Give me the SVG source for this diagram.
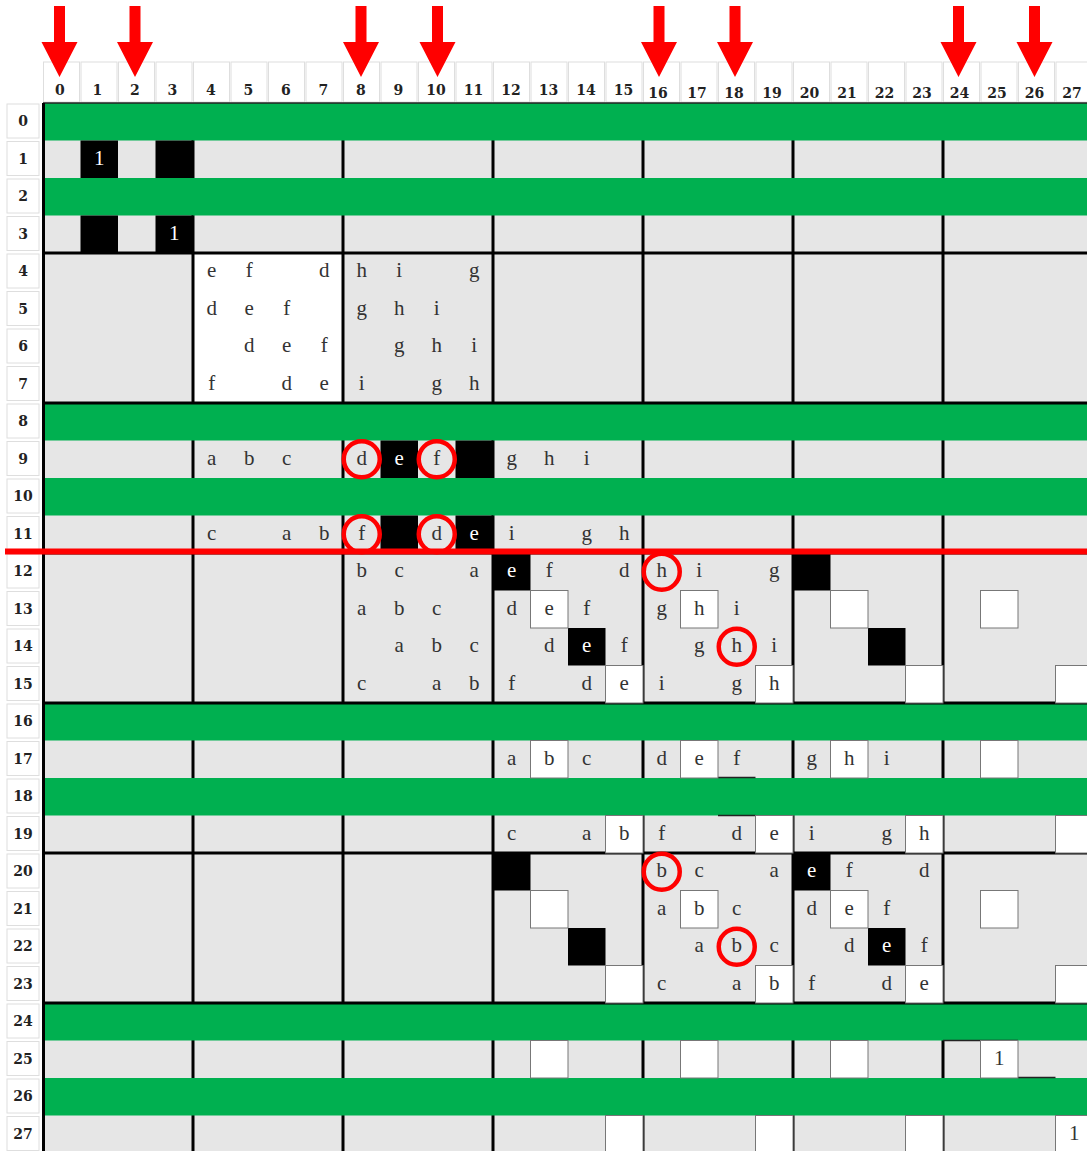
<svg xmlns="http://www.w3.org/2000/svg" width="1087" height="1151" viewBox="0 0 1087 1151">
<defs>
<style>
.hdr{fill:#fff;stroke:#dedede;stroke-width:1}
.hnum{font-family:"DejaVu Serif","Liberation Serif",serif;font-weight:bold;font-size:14px;fill:#222;text-anchor:middle}
.grn{fill:#00b050}
.blk{fill:#000}
.wht{fill:#fff;stroke:#777;stroke-width:1}
.thick{stroke:#000;stroke-width:3}
.lt{font-family:"Liberation Serif",serif;font-size:21px;fill:#333;text-anchor:middle}
.lw{font-family:"Liberation Serif",serif;font-size:21px;fill:#fff;text-anchor:middle}
.circ{fill:none;stroke:#ff0000;stroke-width:4.5}
.arr{fill:#ff0000}
.art{stroke:#222;stroke-width:1.5}
</style>
</defs>
<rect width="1087" height="1151" fill="#fff"/>

<g id="col-headers">
<rect class="hdr" x="43.5" y="62" width="36" height="40"/><text class="hnum" x="59.75" y="95">0</text>
<rect class="hdr" x="81" y="62" width="36" height="40"/><text class="hnum" x="97.25" y="95">1</text>
<rect class="hdr" x="118.5" y="62" width="36" height="40"/><text class="hnum" x="134.75" y="95">2</text>
<rect class="hdr" x="156" y="62" width="36" height="40"/><text class="hnum" x="172.25" y="95">3</text>
<rect class="hdr" x="193.5" y="62" width="36" height="40"/><text class="hnum" x="210.75" y="95">4</text>
<rect class="hdr" x="231" y="62" width="36" height="40"/><text class="hnum" x="248.25" y="95">5</text>
<rect class="hdr" x="268.5" y="62" width="36" height="40"/><text class="hnum" x="285.75" y="95">6</text>
<rect class="hdr" x="306" y="62" width="36" height="40"/><text class="hnum" x="323.25" y="95">7</text>
<rect class="hdr" x="343.5" y="62" width="36" height="40"/><text class="hnum" x="360.75" y="95">8</text>
<rect class="hdr" x="381" y="62" width="36" height="40"/><text class="hnum" x="398.25" y="95">9</text>
<rect class="hdr" x="418.5" y="62" width="36" height="40"/><text class="hnum" x="436" y="95">10</text>
<rect class="hdr" x="456" y="62" width="36" height="40"/><text class="hnum" x="473.5" y="95">11</text>
<rect class="hdr" x="493.5" y="62" width="36" height="40"/><text class="hnum" x="511" y="95">12</text>
<rect class="hdr" x="531" y="62" width="36" height="40"/><text class="hnum" x="548.5" y="95">13</text>
<rect class="hdr" x="568.5" y="62" width="36" height="40"/><text class="hnum" x="586" y="95">14</text>
<rect class="hdr" x="606" y="62" width="36" height="40"/><text class="hnum" x="623.5" y="95">15</text>
<rect class="hdr" x="643.5" y="62" width="36" height="40"/><text class="hnum" x="658" y="98">16</text>
<rect class="hdr" x="681" y="62" width="36" height="40"/><text class="hnum" x="697" y="98">17</text>
<rect class="hdr" x="718.5" y="62" width="36" height="40"/><text class="hnum" x="734" y="98">18</text>
<rect class="hdr" x="756" y="62" width="36" height="40"/><text class="hnum" x="772" y="98">19</text>
<rect class="hdr" x="793.5" y="62" width="36" height="40"/><text class="hnum" x="809.5" y="98">20</text>
<rect class="hdr" x="831" y="62" width="36" height="40"/><text class="hnum" x="847" y="98">21</text>
<rect class="hdr" x="868.5" y="62" width="36" height="40"/><text class="hnum" x="884.5" y="98">22</text>
<rect class="hdr" x="906" y="62" width="36" height="40"/><text class="hnum" x="922" y="98">23</text>
<rect class="hdr" x="943.5" y="62" width="36" height="40"/><text class="hnum" x="959.5" y="98">24</text>
<rect class="hdr" x="981" y="62" width="36" height="40"/><text class="hnum" x="997" y="98">25</text>
<rect class="hdr" x="1018.5" y="62" width="36" height="40"/><text class="hnum" x="1034.5" y="98">26</text>
<rect class="hdr" x="1056" y="62" width="36" height="40"/><text class="hnum" x="1072" y="98">27</text>
</g>

<g id="row-headers">
<rect class="hdr" x="7" y="104" width="32" height="34"/><text class="hnum" x="23" y="126">0</text>
<rect class="hdr" x="7" y="141.5" width="32" height="34"/><text class="hnum" x="23" y="163.5">1</text>
<rect class="hdr" x="7" y="179" width="32" height="34"/><text class="hnum" x="23" y="201">2</text>
<rect class="hdr" x="7" y="216.5" width="32" height="34"/><text class="hnum" x="23" y="238.5">3</text>
<rect class="hdr" x="7" y="254" width="32" height="34"/><text class="hnum" x="23" y="276">4</text>
<rect class="hdr" x="7" y="291.5" width="32" height="34"/><text class="hnum" x="23" y="313.5">5</text>
<rect class="hdr" x="7" y="329" width="32" height="34"/><text class="hnum" x="23" y="351">6</text>
<rect class="hdr" x="7" y="366.5" width="32" height="34"/><text class="hnum" x="23" y="388.5">7</text>
<rect class="hdr" x="7" y="404" width="32" height="34"/><text class="hnum" x="23" y="426">8</text>
<rect class="hdr" x="7" y="441.5" width="32" height="34"/><text class="hnum" x="23" y="463.5">9</text>
<rect class="hdr" x="7" y="479" width="32" height="34"/><text class="hnum" x="23" y="501">10</text>
<rect class="hdr" x="7" y="516.5" width="32" height="34"/><text class="hnum" x="23" y="538.5">11</text>
<rect class="hdr" x="7" y="554" width="32" height="34"/><text class="hnum" x="23" y="576">12</text>
<rect class="hdr" x="7" y="591.5" width="32" height="34"/><text class="hnum" x="23" y="613.5">13</text>
<rect class="hdr" x="7" y="629" width="32" height="34"/><text class="hnum" x="23" y="651">14</text>
<rect class="hdr" x="7" y="666.5" width="32" height="34"/><text class="hnum" x="23" y="688.5">15</text>
<rect class="hdr" x="7" y="704" width="32" height="34"/><text class="hnum" x="23" y="726">16</text>
<rect class="hdr" x="7" y="741.5" width="32" height="34"/><text class="hnum" x="23" y="763.5">17</text>
<rect class="hdr" x="7" y="779" width="32" height="34"/><text class="hnum" x="23" y="801">18</text>
<rect class="hdr" x="7" y="816.5" width="32" height="34"/><text class="hnum" x="23" y="838.5">19</text>
<rect class="hdr" x="7" y="854" width="32" height="34"/><text class="hnum" x="23" y="876">20</text>
<rect class="hdr" x="7" y="891.5" width="32" height="34"/><text class="hnum" x="23" y="913.5">21</text>
<rect class="hdr" x="7" y="929" width="32" height="34"/><text class="hnum" x="23" y="951">22</text>
<rect class="hdr" x="7" y="966.5" width="32" height="34"/><text class="hnum" x="23" y="988.5">23</text>
<rect class="hdr" x="7" y="1004" width="32" height="34"/><text class="hnum" x="23" y="1026">24</text>
<rect class="hdr" x="7" y="1041.5" width="32" height="34"/><text class="hnum" x="23" y="1063.5">25</text>
<rect class="hdr" x="7" y="1079" width="32" height="34"/><text class="hnum" x="23" y="1101">26</text>
<rect class="hdr" x="7" y="1116.5" width="32" height="34"/><text class="hnum" x="23" y="1138.5">27</text>
</g>

<g id="arrows">
<polygon class="arr" points="54,6 65,6 65,42 77.5,42 59.5,77 41.5,42 54,42"/>
<polygon class="arr" points="129.5,6 140.5,6 140.5,42 153,42 135,77 117,42 129.5,42"/>
<polygon class="arr" points="355.5,6 366.5,6 366.5,42 379,42 361,77 343,42 355.5,42"/>
<polygon class="arr" points="432,6 443,6 443,42 455.5,42 437.5,77 419.5,42 432,42"/>
<polygon class="arr" points="653.5,6 664.5,6 664.5,42 677,42 659,77 641,42 653.5,42"/>
<polygon class="arr" points="729.5,6 740.5,6 740.5,42 753,42 735,77 717,42 729.5,42"/>
<polygon class="arr" points="953,6 964,6 964,42 976.5,42 958.5,77 940.5,42 953,42"/>
<polygon class="arr" points="1029,6 1040,6 1040,42 1052.5,42 1034.5,77 1016.5,42 1029,42"/>
</g>

<g id="grid">
<rect x="43" y="103" width="1044" height="1048" fill="#e6e6e6"/>
<rect x="193" y="253" width="150" height="150" fill="#fff"/>
<g id="block-lines-v">
<line class="thick" x1="193" y1="103" x2="193" y2="1151"/>
<line class="thick" x1="343" y1="103" x2="343" y2="1151"/>
<line class="thick" x1="493" y1="103" x2="493" y2="1151"/>
<line class="thick" x1="643" y1="103" x2="643" y2="1151"/>
<line class="thick" x1="793" y1="103" x2="793" y2="1151"/>
<line class="thick" x1="943" y1="103" x2="943" y2="1151"/>
</g>
<g id="green-rows">
<rect class="grn" x="44" y="103" width="1043" height="37.5"/>
<rect class="grn" x="44" y="178" width="1043" height="37.5"/>
<rect class="grn" x="44" y="403" width="1043" height="37.5"/>
<rect class="grn" x="44" y="478" width="1043" height="37.5"/>
<rect class="grn" x="44" y="703" width="1043" height="37.5"/>
<rect class="grn" x="44" y="778" width="1043" height="37.5"/>
<rect class="grn" x="44" y="1003" width="1043" height="37.5"/>
<rect class="grn" x="44" y="1078" width="1043" height="37.5"/>
</g>
<g id="block-lines-h">
<line x1="43" y1="103" x2="1087" y2="103" stroke="#222" stroke-width="1.5"/>
<line class="thick" x1="43" y1="253" x2="1087" y2="253"/>
<line class="thick" x1="43" y1="403" x2="1087" y2="403"/>
<line class="thick" x1="43" y1="553" x2="1087" y2="553"/>
<line class="thick" x1="43" y1="703" x2="1087" y2="703"/>
<line class="thick" x1="43" y1="853" x2="1087" y2="853"/>
<line class="thick" x1="43" y1="1003" x2="1087" y2="1003"/>
<line class="thick" x1="43.5" y1="103" x2="43.5" y2="1151"/>
<line class="art" x1="718" y1="777.5" x2="755.5" y2="777.5"/>
<line class="art" x1="718" y1="815.5" x2="755.5" y2="815.5"/>
<line class="art" x1="943" y1="1040.5" x2="1018" y2="1040.5"/>
<line class="art" x1="1018" y1="1077.5" x2="1055.5" y2="1077.5"/>
</g>
</g>

<g id="black-cells">
<rect class="blk" x="80.5" y="140.5" width="37.5" height="37.5"/>
<rect class="blk" x="155.5" y="140.5" width="37.5" height="37.5"/>
<rect class="blk" x="80.5" y="215.5" width="37.5" height="37.5"/>
<rect class="blk" x="155.5" y="215.5" width="37.5" height="37.5"/>
<rect class="blk" x="380.5" y="440.5" width="37.5" height="37.5"/>
<rect class="blk" x="455.5" y="440.5" width="37.5" height="37.5"/>
<rect class="blk" x="380.5" y="515.5" width="37.5" height="37.5"/>
<rect class="blk" x="455.5" y="515.5" width="37.5" height="37.5"/>
<rect class="blk" x="493" y="553" width="37.5" height="37.5"/>
<rect class="blk" x="793" y="553" width="37.5" height="37.5"/>
<rect class="blk" x="568" y="628" width="37.5" height="37.5"/>
<rect class="blk" x="868" y="628" width="37.5" height="37.5"/>
<rect class="blk" x="493" y="853" width="37.5" height="37.5"/>
<rect class="blk" x="793" y="853" width="37.5" height="37.5"/>
<rect class="blk" x="568" y="928" width="37.5" height="37.5"/>
<rect class="blk" x="868" y="928" width="37.5" height="37.5"/>
</g>

<g id="white-cells">
<rect class="wht" x="530.5" y="590.5" width="37.5" height="37.5"/>
<rect class="wht" x="680.5" y="590.5" width="37.5" height="37.5"/>
<rect class="wht" x="830.5" y="590.5" width="37.5" height="37.5"/>
<rect class="wht" x="980.5" y="590.5" width="37.5" height="37.5"/>
<rect class="wht" x="605.5" y="665.5" width="37.5" height="37.5"/>
<rect class="wht" x="755.5" y="665.5" width="37.5" height="37.5"/>
<rect class="wht" x="905.5" y="665.5" width="37.5" height="37.5"/>
<rect class="wht" x="1055.5" y="665.5" width="37.5" height="37.5"/>
<rect class="wht" x="530.5" y="740.5" width="37.5" height="37.5"/>
<rect class="wht" x="680.5" y="740.5" width="37.5" height="37.5"/>
<rect class="wht" x="830.5" y="740.5" width="37.5" height="37.5"/>
<rect class="wht" x="980.5" y="740.5" width="37.5" height="37.5"/>
<rect class="wht" x="605.5" y="815.5" width="37.5" height="37.5"/>
<rect class="wht" x="755.5" y="815.5" width="37.5" height="37.5"/>
<rect class="wht" x="905.5" y="815.5" width="37.5" height="37.5"/>
<rect class="wht" x="1055.5" y="815.5" width="37.5" height="37.5"/>
<rect class="wht" x="530.5" y="890.5" width="37.5" height="37.5"/>
<rect class="wht" x="680.5" y="890.5" width="37.5" height="37.5"/>
<rect class="wht" x="830.5" y="890.5" width="37.5" height="37.5"/>
<rect class="wht" x="980.5" y="890.5" width="37.5" height="37.5"/>
<rect class="wht" x="605.5" y="965.5" width="37.5" height="37.5"/>
<rect class="wht" x="755.5" y="965.5" width="37.5" height="37.5"/>
<rect class="wht" x="905.5" y="965.5" width="37.5" height="37.5"/>
<rect class="wht" x="1055.5" y="965.5" width="37.5" height="37.5"/>
<rect class="wht" x="530.5" y="1040.5" width="37.5" height="37.5"/>
<rect class="wht" x="680.5" y="1040.5" width="37.5" height="37.5"/>
<rect class="wht" x="830.5" y="1040.5" width="37.5" height="37.5"/>
<rect class="wht" x="980.5" y="1040.5" width="37.5" height="37.5"/>
<rect class="wht" x="605.5" y="1115.5" width="37.5" height="37.5"/>
<rect class="wht" x="755.5" y="1115.5" width="37.5" height="37.5"/>
<rect class="wht" x="905.5" y="1115.5" width="37.5" height="37.5"/>
<rect class="wht" x="1055.5" y="1115.5" width="37.5" height="37.5"/>
</g>

<g id="digits">
<text class="lw" x="99.25" y="165">1</text>
<text class="lw" x="174.25" y="240">1</text>
<text class="lt" x="999.25" y="1065">1</text>
<text class="lt" x="1074.25" y="1140">1</text>
</g>

<g id="letters">
<text class="lt" x="211.75" y="277.25">e</text><text class="lt" x="249.25" y="277.25">f</text><text class="lt" x="324.25" y="277.25">d</text>
<text class="lt" x="361.75" y="277.25">h</text><text class="lt" x="399.25" y="277.25">i</text><text class="lt" x="474.25" y="277.25">g</text>

<text class="lt" x="211.75" y="314.75">d</text><text class="lt" x="249.25" y="314.75">e</text><text class="lt" x="286.75" y="314.75">f</text>
<text class="lt" x="361.75" y="314.75">g</text><text class="lt" x="399.25" y="314.75">h</text><text class="lt" x="436.75" y="314.75">i</text>

<text class="lt" x="249.25" y="352.25">d</text><text class="lt" x="286.75" y="352.25">e</text><text class="lt" x="324.25" y="352.25">f</text>
<text class="lt" x="399.25" y="352.25">g</text><text class="lt" x="436.75" y="352.25">h</text><text class="lt" x="474.25" y="352.25">i</text>

<text class="lt" x="211.75" y="389.75">f</text><text class="lt" x="286.75" y="389.75">d</text><text class="lt" x="324.25" y="389.75">e</text>
<text class="lt" x="361.75" y="389.75">i</text><text class="lt" x="436.75" y="389.75">g</text><text class="lt" x="474.25" y="389.75">h</text>

<text class="lt" x="211.75" y="464.75">a</text><text class="lt" x="249.25" y="464.75">b</text><text class="lt" x="286.75" y="464.75">c</text>
<text class="lt" x="361.75" y="464.75">d</text><text class="lw" x="399.25" y="464.75">e</text><text class="lt" x="436.75" y="464.75">f</text>
<text class="lt" x="511.75" y="464.75">g</text><text class="lt" x="549.25" y="464.75">h</text><text class="lt" x="586.75" y="464.75">i</text>

<text class="lt" x="211.75" y="539.75">c</text><text class="lt" x="286.75" y="539.75">a</text><text class="lt" x="324.25" y="539.75">b</text>
<text class="lt" x="361.75" y="539.75">f</text><text class="lt" x="436.75" y="539.75">d</text><text class="lw" x="474.25" y="539.75">e</text>
<text class="lt" x="511.75" y="539.75">i</text><text class="lt" x="586.75" y="539.75">g</text><text class="lt" x="624.25" y="539.75">h</text>

<text class="lt" x="361.75" y="577.25">b</text><text class="lt" x="399.25" y="577.25">c</text><text class="lt" x="474.25" y="577.25">a</text>
<text class="lw" x="511.75" y="577.25">e</text><text class="lt" x="549.25" y="577.25">f</text><text class="lt" x="624.25" y="577.25">d</text>
<text class="lt" x="661.75" y="577.25">h</text><text class="lt" x="699.25" y="577.25">i</text><text class="lt" x="774.25" y="577.25">g</text>

<text class="lt" x="361.75" y="614.75">a</text><text class="lt" x="399.25" y="614.75">b</text><text class="lt" x="436.75" y="614.75">c</text>
<text class="lt" x="511.75" y="614.75">d</text><text class="lt" x="549.25" y="614.75">e</text><text class="lt" x="586.75" y="614.75">f</text>
<text class="lt" x="661.75" y="614.75">g</text><text class="lt" x="699.25" y="614.75">h</text><text class="lt" x="736.75" y="614.75">i</text>

<text class="lt" x="399.25" y="652.25">a</text><text class="lt" x="436.75" y="652.25">b</text><text class="lt" x="474.25" y="652.25">c</text>
<text class="lt" x="549.25" y="652.25">d</text><text class="lw" x="586.75" y="652.25">e</text><text class="lt" x="624.25" y="652.25">f</text>
<text class="lt" x="699.25" y="652.25">g</text><text class="lt" x="736.75" y="652.25">h</text><text class="lt" x="774.25" y="652.25">i</text>

<text class="lt" x="361.75" y="689.75">c</text><text class="lt" x="436.75" y="689.75">a</text><text class="lt" x="474.25" y="689.75">b</text>
<text class="lt" x="511.75" y="689.75">f</text><text class="lt" x="586.75" y="689.75">d</text><text class="lt" x="624.25" y="689.75">e</text>
<text class="lt" x="661.75" y="689.75">i</text><text class="lt" x="736.75" y="689.75">g</text><text class="lt" x="774.25" y="689.75">h</text>

<text class="lt" x="511.75" y="764.75">a</text><text class="lt" x="549.25" y="764.75">b</text><text class="lt" x="586.75" y="764.75">c</text>
<text class="lt" x="661.75" y="764.75">d</text><text class="lt" x="699.25" y="764.75">e</text><text class="lt" x="736.75" y="764.75">f</text>
<text class="lt" x="811.75" y="764.75">g</text><text class="lt" x="849.25" y="764.75">h</text><text class="lt" x="886.75" y="764.75">i</text>

<text class="lt" x="511.75" y="839.75">c</text><text class="lt" x="586.75" y="839.75">a</text><text class="lt" x="624.25" y="839.75">b</text>
<text class="lt" x="661.75" y="839.75">f</text><text class="lt" x="736.75" y="839.75">d</text><text class="lt" x="774.25" y="839.75">e</text>
<text class="lt" x="811.75" y="839.75">i</text><text class="lt" x="886.75" y="839.75">g</text><text class="lt" x="924.25" y="839.75">h</text>

<text class="lt" x="661.75" y="877.25">b</text><text class="lt" x="699.25" y="877.25">c</text><text class="lt" x="774.25" y="877.25">a</text>
<text class="lw" x="811.75" y="877.25">e</text><text class="lt" x="849.25" y="877.25">f</text><text class="lt" x="924.25" y="877.25">d</text>

<text class="lt" x="661.75" y="914.75">a</text><text class="lt" x="699.25" y="914.75">b</text><text class="lt" x="736.75" y="914.75">c</text>
<text class="lt" x="811.75" y="914.75">d</text><text class="lt" x="849.25" y="914.75">e</text><text class="lt" x="886.75" y="914.75">f</text>

<text class="lt" x="699.25" y="952.25">a</text><text class="lt" x="736.75" y="952.25">b</text><text class="lt" x="774.25" y="952.25">c</text>
<text class="lt" x="849.25" y="952.25">d</text><text class="lw" x="886.75" y="952.25">e</text><text class="lt" x="924.25" y="952.25">f</text>

<text class="lt" x="661.75" y="989.75">c</text><text class="lt" x="736.75" y="989.75">a</text><text class="lt" x="774.25" y="989.75">b</text>
<text class="lt" x="811.75" y="989.75">f</text><text class="lt" x="886.75" y="989.75">d</text><text class="lt" x="924.25" y="989.75">e</text>
</g>

<g id="circles">
<circle class="circ" cx="361.75" cy="459.25" r="18"/>
<circle class="circ" cx="436.75" cy="459.25" r="18"/>
<circle class="circ" cx="361.75" cy="534.25" r="18"/>
<circle class="circ" cx="436.75" cy="534.25" r="18"/>
<circle class="circ" cx="661.75" cy="571.75" r="18"/>
<circle class="circ" cx="736.75" cy="646.75" r="18"/>
<circle class="circ" cx="661.75" cy="871.75" r="18"/>
<circle class="circ" cx="736.75" cy="946.75" r="18"/>
</g>

<rect id="red-line" x="5" y="548.5" width="1082" height="6" fill="#ff0000"/>
</svg>
